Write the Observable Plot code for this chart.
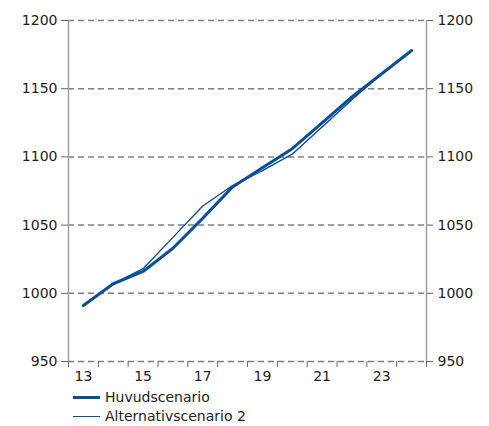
<!DOCTYPE html>
<html>
<head>
<meta charset="utf-8">
<script src="https://cdn.jsdelivr.net/npm/d3@7"></script>
<script src="https://cdn.jsdelivr.net/npm/@observablehq/plot@0.6"></script>
<style>
  body { margin: 0; background: #fff; font-family: "DejaVu Sans", Verdana, sans-serif; overflow: hidden; }
  #chart svg { display: block; }
  .legend { margin: 0 0 0 73px; font-size: 14px; color: #222; line-height: 19px; }
  .legend div { display: flex; align-items: center; height: 19px; }
  .legend span.sw { display: inline-block; width: 27px; margin-right: 5px; background: #0b4e98; }
</style>
</head>
<body>
<div id="chart"></div>
<div class="legend" id="legend"></div>
<script>
// Years (two-digit) and the two scenarios
const years = [13, 14, 15, 16, 17, 18, 19, 20, 21, 22, 23, 24];
const huvudscenario = [991, 1007, 1016, 1033, 1055, 1078, 1092, 1106, 1125, 1144, 1161, 1178];
const alternativscenario2 = [991, 1007, 1018, 1041, 1064, 1079, 1090, 1102, 1122, 1142, 1161, 1178];
const yTicks = [950, 1000, 1050, 1100, 1150, 1200];
const xLabels = [13, 15, 17, 19, 21, 23];

const blue = "#0b4e98";
const grey = "#808080";

const series = [
  {name: "Huvudscenario", values: huvudscenario, width: 3},
  {name: "Alternativscenario 2", values: alternativscenario2, width: 1.4}
];
const rows = series.flatMap(s => years.map((yr, i) => ({series: s.name, year: yr, value: s.values[i]})));

// Category boundaries for the x tick marks
const boundaries = d3.range(years[0] - 0.5, years[years.length - 1] + 1, 1);
const fmt = d3.format("d");

const chart = Plot.plot({
  width: 489,
  height: 388,
  marginLeft: 68,
  marginRight: 63,
  marginTop: 20,
  marginBottom: 27,
  style: {fontFamily: "DejaVu Sans, Verdana, sans-serif", fontSize: "14px", color: "#222"},
  x: {domain: [years[0] - 0.5, years[years.length - 1] + 0.5]},
  y: {domain: [950, 1200]},
  marks: [
    Plot.ruleY(yTicks, {stroke: grey, strokeWidth: 1.5, strokeDasharray: "6,4"}),
    Plot.ruleX([years[0] - 0.5, years[years.length - 1] + 0.5], {stroke: "#a0a0a0", strokeWidth: 1.5}),
    Plot.axisY({anchor: "left", ticks: yTicks, tickFormat: fmt, tickSize: 7, tickPadding: 4, stroke: "#666", label: null, fontSize: 14}),
    Plot.axisY({anchor: "right", ticks: yTicks, tickFormat: fmt, tickSize: 6, tickPadding: 5, stroke: "#666", label: null, fontSize: 14}),
    Plot.axisX({ticks: boundaries, tickSize: 6, tickFormat: () => "", stroke: "#666", label: null}),
    Plot.axisX({ticks: xLabels, tickFormat: fmt, tickSize: 0, tickPadding: 10, label: null, fontSize: 14}),
    ...series.map(s => Plot.line(rows.filter(d => d.series === s.name), {
      x: "year", y: "value", stroke: blue, strokeWidth: s.width, strokeLinejoin: "round"
    }))
  ]
});
document.getElementById("chart").appendChild(chart);

const legend = document.getElementById("legend");
for (const s of series) {
  const row = document.createElement("div");
  const sw = document.createElement("span");
  sw.className = "sw";
  sw.style.height = s.width + "px";
  row.appendChild(sw);
  row.appendChild(document.createTextNode(s.name));
  legend.appendChild(row);
}
</script>
</body>
</html>
